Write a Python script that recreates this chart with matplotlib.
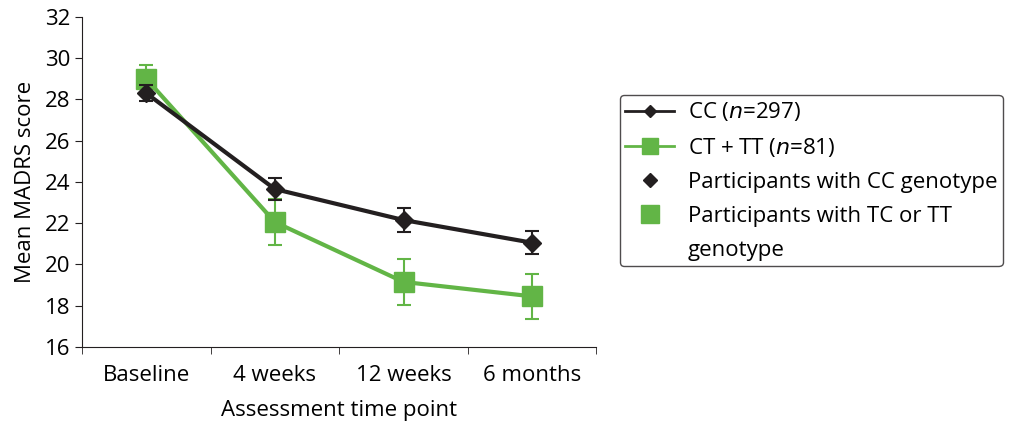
import numpy as np
import matplotlib.pyplot as plt
from matplotlib.lines import Line2D

plt.rcParams['font.family'] = ['Open Sans', 'DejaVu Sans']

timepoints = ["Baseline", "4 weeks", "12 weeks", "6 months"]
cc_mean = [28.3, 23.65, 22.15, 21.05]
cc_err = [0.4, 0.55, 0.6, 0.55]
ct_mean = [29.0, 22.05, 19.15, 18.45]
ct_err = [0.65, 1.1, 1.1, 1.1]

black = "#231f20"
green = "#62b546"

fig = plt.figure(figsize=(10.11, 4.21), dpi=100)
ax = fig.add_axes([0.081, 0.176, 0.509, 0.784])

x = np.arange(len(timepoints))
ax.errorbar(x, cc_mean, yerr=cc_err, color=black, lw=3, marker="D", ms=9,
            capsize=5, elinewidth=1.5, capthick=1.5, zorder=3)
ax.errorbar(x, ct_mean, yerr=ct_err, color=green, lw=3, marker="s", ms=14,
            capsize=5, elinewidth=1.5, capthick=1.5, zorder=2)

fs = 16
ax.set_xlim(-0.5, 3.5)
ax.set_ylim(16, 32)
ax.set_yticks(range(16, 33, 2))
ax.set_xticks(x)
ax.set_xticklabels(timepoints)
ax.set_xticks(np.arange(-0.5, 3.6, 1), minor=True)
ax.tick_params(axis="x", which="major", length=0, labelsize=fs, pad=13)
ax.tick_params(axis="x", which="minor", length=5, direction="out", color=black)
ax.tick_params(axis="y", length=5, direction="out", labelsize=fs, color=black)
for s in ["top", "right"]:
    ax.spines[s].set_visible(False)
for s in ["left", "bottom"]:
    ax.spines[s].set_color(black)
ax.set_xlabel("Assessment time point", fontsize=fs, labelpad=10)
ax.set_ylabel("Mean MADRS score", fontsize=fs, labelpad=6)

handles = [
    Line2D([], [], color=black, lw=2, marker="D", ms=6),
    Line2D([], [], color=green, lw=2, marker="s", ms=11),
    Line2D([], [], color=black, lw=0, marker="D", ms=7),
    Line2D([], [], color=green, lw=0, marker="s", ms=13),
    Line2D([], [], lw=0),
]
labels = [
    "CC ($n$=297)",
    "CT + TT ($n$=81)",
    "Participants with CC genotype",
    "Participants with TC or TT",
    "genotype",
]
leg = fig.legend(handles, labels, loc="upper left", bbox_to_anchor=(0.613, 0.775),
                 fontsize=fs, frameon=True, fancybox=True, edgecolor=black,
                 handlelength=2.2, handletextpad=0.6, labelspacing=0.58,
                 borderpad=0.25, borderaxespad=0)
leg.get_frame().set_linewidth(1)

fig.savefig("out.png", dpi=100)
